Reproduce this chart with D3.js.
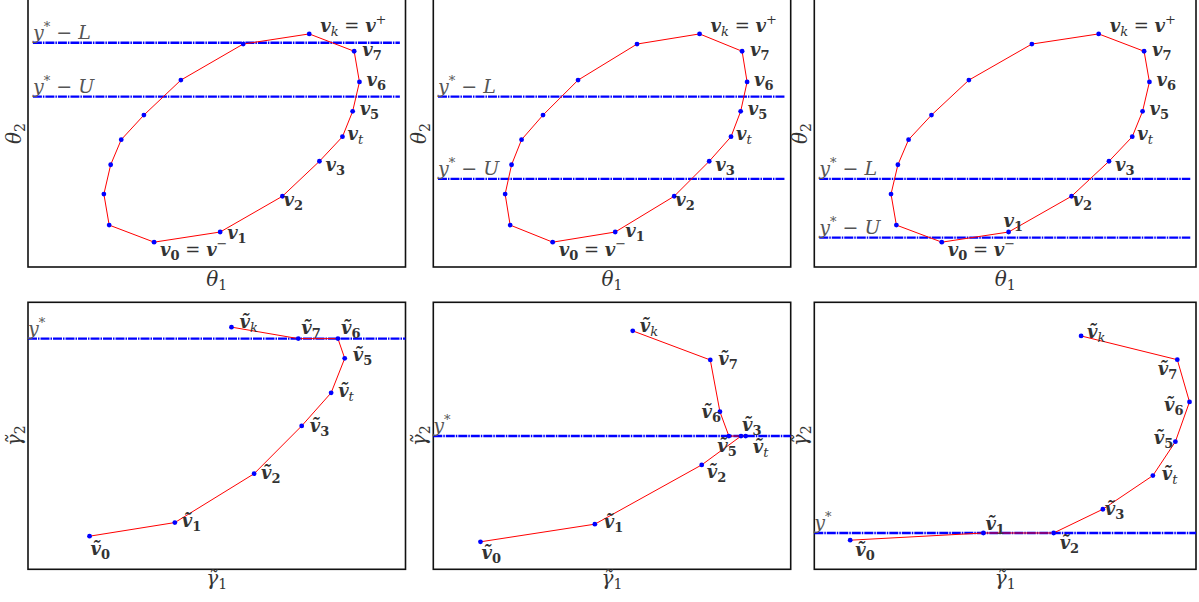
<!DOCTYPE html>
<html>
<head>
<meta charset="utf-8">
<script src="https://cdn.jsdelivr.net/npm/d3@7"></script>
<style>
  body { margin: 0; background: #fff; }
  svg { display: block; }
  .lbl { fill: #333; font-family: "DejaVu Serif", serif; font-size: 18px; }
  .vb { font-weight: bold; font-style: italic; }
  .subn { font-size: 13px; font-weight: bold; }
  .subi { font-size: 13px; font-style: italic; }
  .op { font-weight: normal; font-style: normal; }
  .sup { font-size: 13px; font-weight: normal; }
  .ax { fill: #333; font-family: "DejaVu Serif", serif; font-size: 20px; }
  .lev { fill: #555; font-family: "DejaVu Serif", serif; font-size: 19px; }
</style>
</head>
<body>
<svg id="chart" width="1199" height="602"></svg>
<script>
// ---- data ----

// top row: the same closed polygon in all three panels
// first 9 points are the labelled vertices v0..vk, the rest go back round the left side
const theta1 = [3.34, 5.09, 6.74, 7.72, 8.33, 8.60, 8.78, 8.64, 7.45, 5.70, 4.05, 3.07, 2.47, 2.19, 2.01, 2.15];
const theta2 = [0.93, 1.31, 2.65, 3.96, 4.88, 5.83, 6.93, 8.08, 8.73, 8.35, 7.00, 5.69, 4.77, 3.83, 2.73, 1.57];
const vertexSubs = ["0", "1", "2", "3", "t", "5", "6", "7", "k"];

// horizontal levels y*-L and y*-U in each top panel
const levelL = [8.40, 6.38, 3.30];
const levelU = [6.38, 3.30, 1.10];

// bottom row: transformed path v~0..v~k in each panel
const gamma1 = [
  [1.63, 3.89, 5.99, 7.25, 8.03, 8.39, 8.21, 7.16, 5.39],
  [1.32, 4.52, 7.51, 8.61, 8.74, 8.27, 8.02, 7.75, 5.58],
  [0.94, 4.43, 6.27, 7.56, 8.87, 9.46, 9.83, 9.51, 6.99]
];
const gamma2 = [
  [1.24, 1.75, 3.58, 5.37, 6.61, 7.90, 8.64, 8.64, 9.07],
  [1.03, 1.69, 3.91, 4.99, 4.99, 4.99, 5.90, 7.84, 8.93],
  [1.09, 1.36, 1.36, 2.25, 3.51, 4.78, 6.27, 7.85, 8.74]
];
const levelStar = [8.64, 4.99, 1.36];

// ---- layout ----
const cols = [[28, 405.5], [433.3, 790.7], [814.3, 1196]];
const topRow = [-3, 267];
const botRow = [302.3, 569.3];

// label offsets from the point: [dx, dy, anchor]
const topOffsets = [[6, 14], [7, 7], [1, 10], [6, 10], [5, 3], [7, 4], [7, 4], [8, 5], [11, -2]];
// v1 label moves per panel (narrower middle panel, above the point in the right one)
const topV1 = [[7, 7], [10, 5], [-5, -5]];
const botOffsets = [
  [[1, 19], [7, 4], [7, 5], [8, 6], [7, 4], [8, 3], [3, -5], [3, -5], [8, 1]],
  [[1, 17], [9, 4], [5, 13], [1, -5], [7, 17], [8, 16, "end"], [1, 6, "end"], [8, 5], [7, 1]],
  [[5, 16], [2, -3], [6, 16], [2, 6], [9, 4], [-2, 2, "end"], [-6, 9, "end"], [0, 15, "end"], [6, 2]]
];

const svg = d3.select("#chart");

function frame(x0, x1, y0, y1) {
  svg.append("rect")
    .attr("x", x0).attr("y", y0)
    .attr("width", x1 - x0).attr("height", y1 - y0)
    .attr("fill", "none").attr("stroke", "#111").attr("stroke-width", 1.6);
}

function levelLine(g, x, y, val, x0, x1, name) {
  g.append("line")
    .attr("x1", x(x0)).attr("x2", x(x1))
    .attr("y1", y(val)).attr("y2", y(val))
    .attr("stroke", "#0000ff").attr("stroke-width", 2.4)
    .attr("stroke-dasharray", "9,1,1.5,1");
  const t = g.append("text").attr("class", "lev")
    .attr("x", x(x0)).attr("y", y(val) - 4);
  t.append("tspan").attr("font-style", "italic").text("y");
  t.append("tspan").attr("font-size", 13).attr("dy", -8).text("*");
  if (name) {
    t.append("tspan").attr("dy", 8).text(" \u2212 ");
    t.append("tspan").attr("font-style", "italic").text(name);
  }
}

function vLabel(g, px, py, off, sub, tilde, rhs) {
  const t = g.append("text").attr("class", "lbl")
    .attr("x", px + off[0]).attr("y", py + off[1])
    .attr("text-anchor", off[2] || "start");
  t.append("tspan").attr("class", "vb").text(tilde ? "v\u0303" : "v");
  t.append("tspan").attr("class", /\d/.test(sub) ? "subn" : "subi").attr("dy", 4).text(sub);
  if (rhs) {
    t.append("tspan").attr("class", "op").attr("dy", -4).text(" = ");
    t.append("tspan").attr("class", "vb").text("v");
    t.append("tspan").attr("class", "sup").attr("dy", -8).text(rhs);
  }
}

function axisLabels(x0, x1, y0, y1, sym, baseY) {
  const t = svg.append("text").attr("class", "ax")
    .attr("x", (x0 + x1) / 2).attr("y", baseY).attr("text-anchor", "middle");
  t.append("tspan").attr("font-style", "italic").text(sym);
  t.append("tspan").attr("font-size", 14).attr("dy", 4).text("1");
  const cy = (y0 + y1) / 2;
  const r = svg.append("text").attr("class", "ax")
    .attr("transform", `translate(${x0 - 7},${cy}) rotate(-90)`)
    .attr("text-anchor", "middle");
  r.append("tspan").attr("font-style", "italic").text(sym);
  r.append("tspan").attr("font-size", 14).attr("dy", 4).text("2");
}

const line = d3.line();

// ---- top row ----
cols.forEach((c, p) => {
  const x = d3.scaleLinear().domain([0, 10]).range(c);
  const y = d3.scaleLinear().domain([0, 10]).range([267, 0]);
  frame(c[0], c[1], topRow[0], topRow[1]);
  const g = svg.append("g");

  levelLine(g, x, y, levelL[p], 0.13, 9.85, "L");
  levelLine(g, x, y, levelU[p], 0.13, 9.85, "U");

  const pts = theta1.map((v, i) => [x(v), y(theta2[i])]);
  g.append("path")
    .attr("d", line(pts) + "Z")
    .attr("fill", "none").attr("stroke", "#ff0000").attr("stroke-width", 1);

  g.selectAll("circle").data(pts).join("circle")
    .attr("cx", d => d[0]).attr("cy", d => d[1]).attr("r", 2.4)
    .attr("fill", "#0000ff");

  const offs = topOffsets.map((d, i) => i === 1 ? topV1[p] : d);
  vertexSubs.forEach((s, i) => {
    const rhs = i === 0 ? "\u2212" : (i === 8 ? "+" : null);
    vLabel(g, pts[i][0], pts[i][1], offs[i], s, false, rhs);
  });

  axisLabels(c[0], c[1], 0, 267, "\u03b8", 286);
});

// ---- bottom row ----
cols.forEach((c, p) => {
  const x = d3.scaleLinear().domain([0, 10]).range(c);
  const y = d3.scaleLinear().domain([0, 10]).range([botRow[1], botRow[0]]);
  frame(c[0], c[1], botRow[0], botRow[1]);
  const g = svg.append("g");

  levelLine(g, x, y, levelStar[p], 0, 10, null);

  const pts = gamma1[p].map((v, i) => [x(v), y(gamma2[p][i])]);
  g.append("path")
    .attr("d", line(pts))
    .attr("fill", "none").attr("stroke", "#ff0000").attr("stroke-width", 1);

  g.selectAll("circle").data(pts).join("circle")
    .attr("cx", d => d[0]).attr("cy", d => d[1]).attr("r", 2.4)
    .attr("fill", "#0000ff");

  vertexSubs.forEach((s, i) => {
    vLabel(g, pts[i][0], pts[i][1], botOffsets[p][i], s, true, null);
  });

  axisLabels(c[0], c[1], botRow[0], botRow[1], "\u03b3\u0303", 585);
});
</script>
</body>
</html>
